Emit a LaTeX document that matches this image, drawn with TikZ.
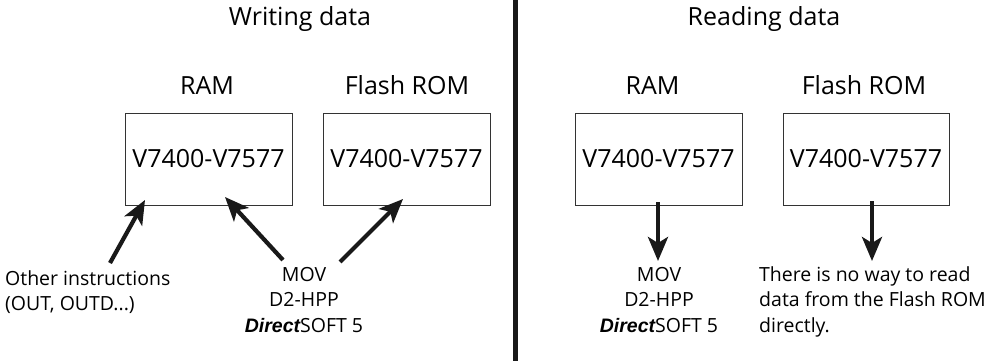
\documentclass[tikz,border=0pt]{standalone}
\usepackage{fontspec}
\setmainfont{Open Sans}
\newfontfamily\dirfont{Liberation Sans}
\usetikzlibrary{arrows.meta}

\begin{document}
\begin{tikzpicture}[x=1pt,y=-1pt,
	mem/.style={draw=black!80,line width=0.9pt,minimum width=167pt,minimum height=92pt,inner sep=0pt,font=\fontsize{25}{30}\selectfont},
	lbl/.style={anchor=base,inner sep=0pt,font=\fontsize{25}{30}\selectfont},
	note/.style={inner sep=0pt,font=\fontsize{19.5}{25.5}\selectfont},
	arr/.style={line width=4.2pt,black!90,-{Stealth[length=24pt 0,width=20pt 0,inset=6pt 0]}}]

	\useasboundingbox (0,0) rectangle (999,361);

	\coordinate (top) at (515,0);
	\coordinate (bot) at (515,361);

	\coordinate (a) at (110,263);
	\coordinate (b) at (145,200);
	\coordinate (c) at (283,260);
	\coordinate (d) at (225,197);
	\coordinate (e) at (340,262);
	\coordinate (f) at (403,199);
	\coordinate (g) at (658,202);
	\coordinate (h) at (658,261);
	\coordinate (i) at (872,201);
	\coordinate (j) at (872,261);

	% writing data
	\node[lbl] (wtitle) at (300,26) {Writing data};
	\node[lbl] (wramlbl) at (207,95) {RAM};
	\node[lbl] (wflashlbl) at (407,95) {Flash ROM};
	\node[mem] (wram) at (208.5,159) {V7400-V7577};
	\node[mem] (wflash) at (406.5,159) {V7400-V7577};
	% base of a multi-line node is its last line
	\node[note,anchor=base west,align=left] (wother) at (5,310.5) {Other instructions\\(OUT, OUTD...)};
	\node[note,anchor=base,align=center] (wmov) at (304,332) {MOV\\D2-HPP\\{\dirfont\bfseries\itshape Direct}SOFT 5};

	\draw[arr] (a) -- (b);
	\draw[arr] (c) -- (d);
	\draw[arr] (e) -- (f);

	\draw[line width=5pt,black!90] (top) -- (bot);

	% reading data
	\node[lbl] (rtitle) at (764,26) {Reading data};
	\node[lbl] (rramlbl) at (652.5,95) {RAM};
	\node[lbl] (rflashlbl) at (864,95) {Flash ROM};
	\node[mem] (rram) at (658.5,159) {V7400-V7577};
	\node[mem,minimum width=166pt] (rflash) at (866,159) {V7400-V7577};
	\node[note,anchor=base,align=center] (rmov) at (659,332) {MOV\\D2-HPP\\{\dirfont\bfseries\itshape Direct}SOFT 5};
	\node[note,anchor=base west,align=left] (rnote) at (759,332) {There is no way to read\\data from the Flash ROM\\directly.};

	\draw[arr] (g) -- (h);
	\draw[arr] (i) -- (j);

\end{tikzpicture}
\end{document}
